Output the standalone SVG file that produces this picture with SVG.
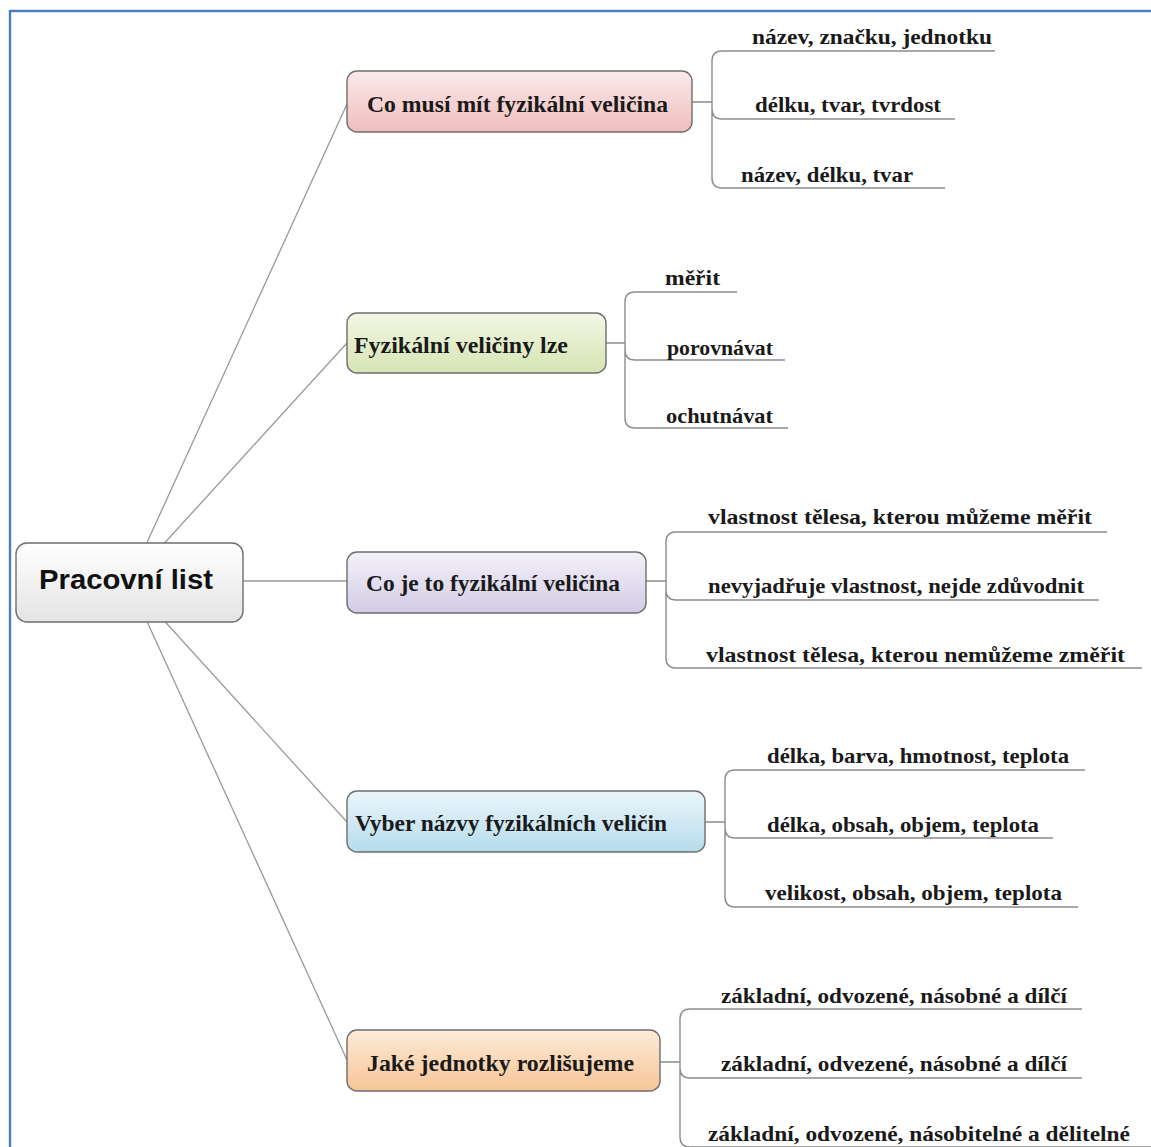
<svg xmlns="http://www.w3.org/2000/svg" width="1151" height="1147" viewBox="0 0 1151 1147">
  <style>
    .frame { fill: none; stroke: #4a7ebb; stroke-width: 2.4; }
    .node { stroke: #6e6e6e; stroke-width: 1.4; }
    .link { fill: none; stroke: #999999; stroke-width: 1.3; }
    .leaf { fill: none; stroke: #8c8c8c; stroke-width: 1.4; }
    .root-text { font-family: "Liberation Sans", Arial, sans-serif; font-weight: bold; font-size: 28px; fill: #111; }
    .topic { font-family: "Liberation Serif", "Times New Roman", serif; font-weight: bold; font-size: 23px; fill: #1a1a1a; }
    .item { font-family: "Liberation Serif", "Times New Roman", serif; font-weight: bold; font-size: 22px; fill: #1a1a1a; }
  </style>
  <defs>
    <linearGradient id="gRoot" x1="0" y1="0" x2="0" y2="1">
      <stop offset="0" stop-color="#ffffff"/>
      <stop offset="1" stop-color="#e4e4e4"/>
    </linearGradient>
    <linearGradient id="gPink" x1="0" y1="0" x2="0" y2="1">
      <stop offset="0" stop-color="#fbeaea"/>
      <stop offset="1" stop-color="#efbdbd"/>
    </linearGradient>
    <linearGradient id="gGreen" x1="0" y1="0" x2="0" y2="1">
      <stop offset="0" stop-color="#f3f7e6"/>
      <stop offset="1" stop-color="#d6e4b3"/>
    </linearGradient>
    <linearGradient id="gPurple" x1="0" y1="0" x2="0" y2="1">
      <stop offset="0" stop-color="#f3f1f9"/>
      <stop offset="1" stop-color="#d3cbe6"/>
    </linearGradient>
    <linearGradient id="gBlue" x1="0" y1="0" x2="0" y2="1">
      <stop offset="0" stop-color="#ebf6fb"/>
      <stop offset="1" stop-color="#b6dcec"/>
    </linearGradient>
    <linearGradient id="gOrange" x1="0" y1="0" x2="0" y2="1">
      <stop offset="0" stop-color="#fdebd9"/>
      <stop offset="1" stop-color="#f7c596"/>
    </linearGradient>
  </defs>

  <rect width="1151" height="1147" fill="#ffffff"/>
  <rect class="frame" x="10" y="11" width="1160" height="1160"/>

  <!-- connectors -->
  <g id="connectors">
    <!-- root to topics -->
    <line class="link" x1="129" y1="582" x2="347" y2="104"/>
    <line class="link" x1="129" y1="582" x2="347" y2="343"/>
    <line class="link" x1="243" y1="581" x2="347" y2="581"/>
    <line class="link" x1="129" y1="582" x2="347" y2="822"/>
    <line class="link" x1="129" y1="582" x2="347" y2="1060"/>

    <!-- topic 1 brackets -->
    <path class="leaf" d="M692,102 H712 M712,61 V178 M712,61 Q712,51 722,51 H995 M712,109 Q712,119 722,119 H955 M712,178 Q712,188 722,188 H945"/>
    <!-- topic 2 brackets -->
    <path class="leaf" d="M606,343 H625 M625,302 V418 M625,302 Q625,292 635,292 H737 M625,350 Q625,360 635,360 H785 M625,418 Q625,428 635,428 H788"/>
    <!-- topic 3 brackets -->
    <path class="leaf" d="M646,581 H666 M666,542 V658 M666,542 Q666,532 676,532 H1107 M666,590 Q666,600 676,600 H1099 M666,658 Q666,668 676,668 H1142"/>
    <!-- topic 4 brackets -->
    <path class="leaf" d="M705,822 H725 M725,780 V897 M725,780 Q725,770 735,770 H1085 M725,828 Q725,838 735,838 H1053 M725,897 Q725,907 735,907 H1078"/>
    <!-- topic 5 brackets -->
    <path class="leaf" d="M660,1062 H680 M680,1019 V1137 M680,1019 Q680,1009 690,1009 H1082 M680,1068 Q680,1078 690,1078 H1082 M680,1137 Q680,1147 690,1147 H1151"/>
  </g>

  <!-- central topic -->
  <g id="root">
    <rect class="node" x="16" y="543" width="227" height="79" rx="11" fill="url(#gRoot)"/>
    <text class="root-text" x="39" y="589" textLength="174" lengthAdjust="spacingAndGlyphs">Pracovní list</text>
  </g>

  <!-- topic 1 -->
  <g id="topic-1">
    <rect class="node" x="347" y="71" width="345" height="61" rx="10" fill="url(#gPink)"/>
    <text class="topic" x="367" y="112" textLength="301" lengthAdjust="spacingAndGlyphs">Co musí mít fyzikální veličina</text>
  </g>
  <g id="t1-a"><text class="item" x="752" y="44" textLength="240" lengthAdjust="spacingAndGlyphs">název, značku, jednotku</text></g>
  <g id="t1-b"><text class="item" x="755" y="112" textLength="186" lengthAdjust="spacingAndGlyphs">délku, tvar, tvrdost</text></g>
  <g id="t1-c"><text class="item" x="741" y="182" textLength="172" lengthAdjust="spacingAndGlyphs">název, délku, tvar</text></g>

  <!-- topic 2 -->
  <g id="topic-2">
    <rect class="node" x="347" y="313" width="259" height="60" rx="10" fill="url(#gGreen)"/>
    <text class="topic" x="354" y="353" textLength="214" lengthAdjust="spacingAndGlyphs">Fyzikální veličiny lze</text>
  </g>
  <g id="t2-a"><text class="item" x="665" y="285" textLength="55" lengthAdjust="spacingAndGlyphs">měřit</text></g>
  <g id="t2-b"><text class="item" x="667" y="355" textLength="106" lengthAdjust="spacingAndGlyphs">porovnávat</text></g>
  <g id="t2-c"><text class="item" x="666" y="423" textLength="107" lengthAdjust="spacingAndGlyphs">ochutnávat</text></g>

  <!-- topic 3 -->
  <g id="topic-3">
    <rect class="node" x="347" y="552" width="299" height="61" rx="10" fill="url(#gPurple)"/>
    <text class="topic" x="366" y="591" textLength="254" lengthAdjust="spacingAndGlyphs">Co je to fyzikální veličina</text>
  </g>
  <g id="t3-a"><text class="item" x="708" y="524" textLength="384" lengthAdjust="spacingAndGlyphs">vlastnost tělesa, kterou můžeme měřit</text></g>
  <g id="t3-b"><text class="item" x="708" y="593" textLength="376" lengthAdjust="spacingAndGlyphs">nevyjadřuje vlastnost, nejde zdůvodnit</text></g>
  <g id="t3-c"><text class="item" x="706" y="662" textLength="419" lengthAdjust="spacingAndGlyphs">vlastnost tělesa, kterou nemůžeme změřit</text></g>

  <!-- topic 4 -->
  <g id="topic-4">
    <rect class="node" x="347" y="791" width="358" height="61" rx="10" fill="url(#gBlue)"/>
    <text class="topic" x="355" y="831" textLength="312" lengthAdjust="spacingAndGlyphs">Vyber názvy fyzikálních veličin</text>
  </g>
  <g id="t4-a"><text class="item" x="767" y="763" textLength="302" lengthAdjust="spacingAndGlyphs">délka, barva, hmotnost, teplota</text></g>
  <g id="t4-b"><text class="item" x="767" y="832" textLength="272" lengthAdjust="spacingAndGlyphs">délka, obsah, objem, teplota</text></g>
  <g id="t4-c"><text class="item" x="765" y="900" textLength="297" lengthAdjust="spacingAndGlyphs">velikost, obsah, objem, teplota</text></g>

  <!-- topic 5 -->
  <g id="topic-5">
    <rect class="node" x="347" y="1030" width="313" height="61" rx="10" fill="url(#gOrange)"/>
    <text class="topic" x="367" y="1071" textLength="267" lengthAdjust="spacingAndGlyphs">Jaké jednotky rozlišujeme</text>
  </g>
  <g id="t5-a"><text class="item" x="721" y="1003" textLength="346" lengthAdjust="spacingAndGlyphs">základní, odvozené, násobné a dílčí</text></g>
  <g id="t5-b"><text class="item" x="721" y="1071" textLength="346" lengthAdjust="spacingAndGlyphs">základní, odvezené, násobné a dílčí</text></g>
  <g id="t5-c"><text class="item" x="708" y="1141" textLength="422" lengthAdjust="spacingAndGlyphs">základní, odvozené, násobitelné a dělitelné</text></g>
</svg>
